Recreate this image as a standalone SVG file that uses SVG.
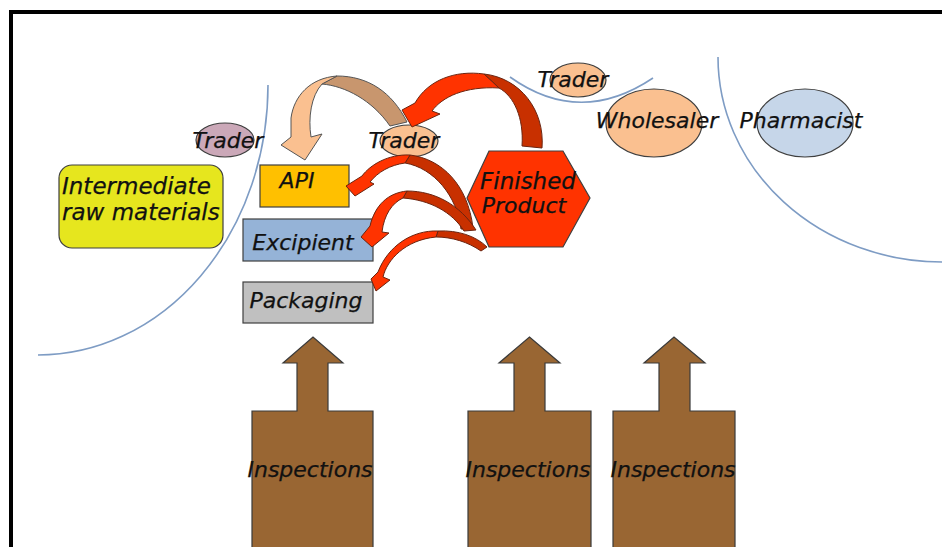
<svg xmlns="http://www.w3.org/2000/svg" width="942" height="547" viewBox="0 0 942 547">
  <style>
    .lbl { font-family: "DejaVu Sans", "Liberation Sans", sans-serif; font-style: italic; font-size: 22px; fill: #111; stroke: #111; stroke-width: 0.25; }
    .big { font-size: 23px; }
    .fp { font-size: 23px; }
    .mid { text-anchor: middle; }
    .edge { stroke: #3f3f3f; stroke-width: 1.2; }
    .zone { fill: none; stroke: #7e9cc4; stroke-width: 1.6; }
    .hot { fill: #ff3300; stroke: #6a2410; stroke-width: 1; stroke-linejoin: round; }
    .hot-back { fill: #c83000; stroke: #6a2410; stroke-width: 1; stroke-linejoin: round; }
    .tan { fill: #fac090; stroke: #555; stroke-width: 1; stroke-linejoin: round; }
    .tan-back { fill: #c8966e; stroke: #555; stroke-width: 1; stroke-linejoin: round; }
    .insp { fill: #996633; stroke: #3a3a3a; stroke-width: 1.2; }
  </style>

  <rect x="0" y="0" width="942" height="547" fill="#ffffff"/>
  <!-- outer frame -->
  <rect x="11" y="12" width="1000" height="1000" fill="none" stroke="#000" stroke-width="4"/>

  <!-- supply chain zone boundaries -->
  <g id="boundaries">
    <path class="zone" d="M268,85 A230,270 0 0 1 38,355"/>
    <path class="zone" d="M510,77 Q580,127 653,78"/>
    <path class="zone" d="M718,57 A224,205 0 0 0 942,262"/>
  </g>

  <g id="trader-left">
    <ellipse cx="225" cy="140" rx="29" ry="17" fill="#cba8b8" class="edge"/>
    <text class="lbl mid" x="228" y="148">Trader</text>
  </g>
  <g id="trader-mid">
    <ellipse cx="409" cy="141" rx="29" ry="16" fill="#fac090" class="edge"/>
    <text class="lbl mid" x="404" y="148">Trader</text>
  </g>
  <g id="trader-top">
    <ellipse cx="578" cy="80" rx="28" ry="17" fill="#fac090" class="edge"/>
    <text class="lbl mid" x="573" y="87">Trader</text>
  </g>
  <g id="wholesaler">
    <ellipse cx="654" cy="123" rx="48" ry="34" fill="#fac090" class="edge"/>
    <text class="lbl mid" x="657" y="128">Wholesaler</text>
  </g>
  <g id="pharmacist">
    <ellipse cx="805" cy="123" rx="48" ry="34" fill="#c6d6e9" class="edge"/>
    <text class="lbl mid" x="801" y="128">Pharmacist</text>
  </g>
  <g id="intermediate">
    <rect x="59" y="165" width="164" height="83" rx="13" fill="#e6e61e" class="edge"/>
    <text class="lbl big" x="62" y="194">Intermediate</text>
    <text class="lbl big" x="62" y="220">raw materials</text>
  </g>
  <g id="api">
    <rect x="260" y="165" width="89" height="42" fill="#ffc000" class="edge"/>
    <text class="lbl mid" x="297" y="188">API</text>
  </g>
  <g id="excipient">
    <rect x="243" y="219" width="130" height="42" fill="#95b3d7" class="edge"/>
    <text class="lbl mid" x="303" y="250">Excipient</text>
  </g>
  <g id="packaging">
    <rect x="243" y="282" width="130" height="41" fill="#c0c0c0" class="edge"/>
    <text class="lbl mid" x="306" y="308">Packaging</text>
  </g>
  <g id="finished-product">
    <polygon points="489,151 563,151 590,198 563,247 489,247 467,198" fill="#ff3300" class="edge"/>
    <text class="lbl mid fp" x="528" y="189">Finished</text>
    <text class="lbl mid" x="524" y="213">Product</text>
  </g>

  <g id="inspections-1">
    <path class="insp" d="M252,560 L252,411 L297,411 L297,363 L283,363 L313,337 L343,363 L328,363 L328,411 L373,411 L373,560 Z"/>
    <text class="lbl mid" x="310" y="477">Inspections</text>
  </g>
  <g id="inspections-2">
    <path class="insp" d="M468,560 L468,411 L514,411 L514,363 L499,363 L529.5,337 L560,363 L545,363 L545,411 L591,411 L591,560 Z"/>
    <text class="lbl mid" x="528" y="477">Inspections</text>
  </g>
  <g id="inspections-3">
    <path class="insp" d="M613,560 L613,411 L659,411 L659,363 L644,363 L674,337 L705,363 L690,363 L690,411 L735,411 L735,560 Z"/>
    <text class="lbl mid" x="673" y="477">Inspections</text>
  </g>

  <!-- curved block arrows -->
  <g id="connectors">
    <!-- trader to API (tan) -->
    <path class="tan-back" d="M322,84 C345,86 372,100 390,126 L407,122 C392,92 368,76 337,76 Z"/>
    <path class="tan" d="M337,76 C310,78 294,96 291,118 L291,137 L281,145 L305,160 L322,134 L311,137 C308,118 311,96 322,84 Z"/>

    <!-- finished product to trader -->
    <path class="hot-back" d="M484,74 C520,78 545,110 542,148 L522,146 C524,118 514,96 499,88 Z"/>
    <path class="hot" d="M484,74 C455,70 428,80 415,103 L402,110 L412,127 L440,114 L432,111 C442,97 465,86 499,88 Z"/>

    <!-- to API -->
    <path class="hot-back" d="M410,155 C442,159 468,185 473,228 L461,229 C457,196 434,168 405,163 Z"/>
    <path class="hot" d="M410,155 C388,154 370,165 362,176 L346,186 L355,196 L374,184 L370,182 C378,172 390,165 405,163 Z"/>

    <!-- to Excipient -->
    <path class="hot-back" d="M407,191 C435,191 460,205 476,230 L464,231 C452,212 430,200 403,198 Z"/>
    <path class="hot" d="M407,191 C388,193 375,205 370,226 L361,237 L372,247 L389,233 L382,232 C384,215 392,203 403,198 Z"/>

    <!-- to Packaging -->
    <path class="hot-back" d="M438,231 C458,230 476,236 487,247 L481,251 C468,242 452,237 436,237 Z"/>
    <path class="hot" d="M438,231 C412,230 388,246 378,272 L371,279 L376,291 L390,280 L383,277 C387,260 405,240 436,237 Z"/>
  </g>
</svg>
